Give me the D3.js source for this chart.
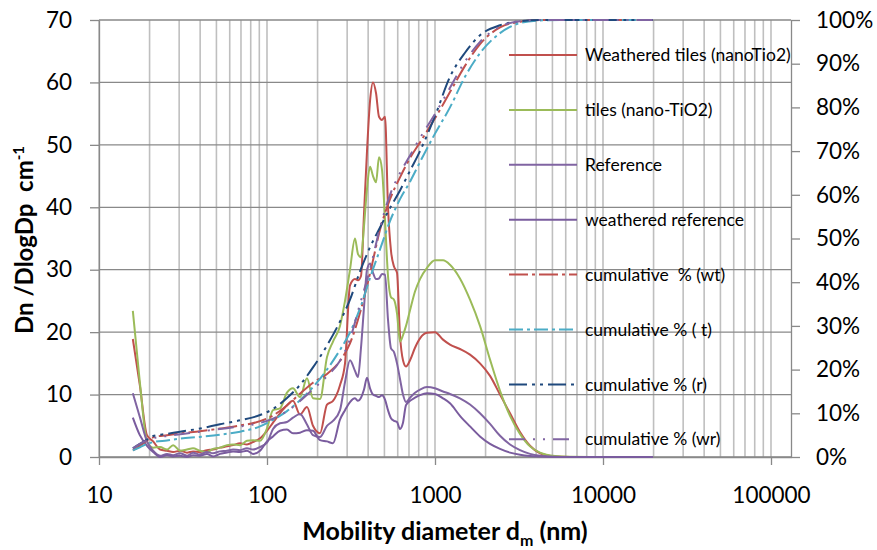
<!DOCTYPE html>
<html>
<head>
<meta charset="utf-8">
<script src="https://cdn.jsdelivr.net/npm/d3@7"></script>
<style>
  body { margin: 0; background: #fff; }
  text { font-family: Lato, "Open Sans", sans-serif; fill: #000; }
</style>
</head>
<body>
<div id="vis1"></div>
<script>
// particle size distributions (dN/dlogDp)
var diam = [15.9, 17.5, 19.3, 21.0, 23.1, 25.4, 27.6, 30.4, 33.4, 36.3,
  39.9, 43.9, 47.7, 52.5, 57.8, 62.8, 69.1, 76.0, 82.5, 90.9,
  100, 108.6, 119.5, 131.5, 142.8, 157.2, 173, 187.8, 206.8, 227.5,
  247.1, 271.9, 291.3, 311.9, 334, 348.1, 362.7, 378, 393.8, 410.4,
  427.6, 445.5, 464.2, 483.7, 504, 525.1, 547.2, 570.1, 594, 619,
  644.9, 672, 710.1, 760.3, 814.2, 896.4, 1000, 1116, 1228, 1408,
  1616, 1853, 2126, 2438, 2796, 3206, 3677, 4217, 5179, 6363,
  8367, 11010, 14480, 19850];

var weatheredTiles = [18.9, 11.5, 3.5, 2.5, 1.2, 1.0, 0.8, 1.0, 0.7, 0.9,
  0.8, 1.1, 1.2, 1.5, 1.7, 1.9, 2.2, 2.0, 2.4, 3.0,
  4.2, 5.5, 7.0, 8.3, 9.0, 6.8, 8.0, 5.0, 3.8, 8.4,
  9.0, 11.5, 15.0, 27.5, 28.5, 28.3, 29.0, 39, 49, 57,
  60, 58.3, 54.5, 54, 54.5, 40, 33, 30.5, 29.5, 19.5,
  15.5, 14.5, 15.5, 17.5, 19, 19.9, 20.0, 18.8, 18.0, 17.3,
  16.4, 15.0, 13.0, 10.0, 7.0, 4.0, 1.8, 0.6, 0.1, 0.02,
  0, 0, 0, 0];

var tiles = [23.4, 12, 2.5, 1.5, 1.6, 1.2, 1.9, 1.0, 1.2, 1.4,
  1.0, 0.8, 1.3, 1.5, 1.9, 2.0, 1.9, 2.6, 2.7, 2.6,
  4.6, 7.5, 7.8, 10.3, 11.0, 9.6, 12.6, 9.4, 9.3, 16.0,
  18.5, 21, 25, 30, 35, 32.5, 32, 37, 43, 46.5,
  45, 44, 48, 46, 38, 29, 25.6, 25.2, 23, 18.5,
  19.5, 21, 23.5, 26.5, 28.5, 30.3, 31.5, 31.5, 30.8, 28.6,
  25.2, 21.0, 15.6, 10.6, 6.6, 3.7, 1.7, 0.7, 0.15, 0.03,
  0, 0, 0, 0];

var reference = [10.2, 6.4, 2.5, 1.0, 0.2, 0.5, 0.3, 0.6, 0.2, 0.7,
  0.4, 0.8, 0.6, 0.9, 1.0, 1.2, 1.1, 1.4, 1.2, 1.6,
  2.3, 4.5, 5.4, 5.6, 6.3, 6.9, 5.2, 3.5, 3.2, 5.0,
  5.8, 7.5, 12.0, 15.5, 13.8, 12.8, 17.5, 24, 30, 31,
  29.5, 28.5, 28.6, 29.3, 29.2, 22, 17.4, 16.8, 15, 12.5,
  10, 8.8, 9.5, 10.3, 10.8, 11.2, 11.0, 10.5, 10.1, 9.4,
  8.4, 7.0, 5.3, 3.4, 2.0, 1.1, 0.5, 0.2, 0.05, 0.01,
  0, 0, 0, 0];

var weatheredRef = [6.3, 3.5, 1.8, 0.8, 0.0, 0.3, 0.1, 0.2, 0.0, 0.3,
  0.2, 0.5, 0.1, 0.5, 0.7, 0.9, 0.8, 1.0, 0.5, 1.0,
  2.5, 3.3, 4.2, 4.4, 3.8, 3.9, 4.3, 4.2, 2.7, 2.5,
  2.2, 6.0, 7.5, 8.8, 9.4, 9.0, 9.5, 10.8, 12.7, 11.0,
  10.0, 9.8, 9.6, 9.9, 9.2, 7.5, 6.2, 5.8, 5.6, 4.5,
  5.5, 8.3, 9.0, 9.5, 9.9, 10.2, 10.1, 9.4, 8.6, 6.6,
  4.9, 3.3, 2.1, 1.3, 0.7, 0.35, 0.15, 0.06, 0.01, 0,
  0, 0, 0, 0];

// cumulative distributions, percent (right axis)
var cumDiam = [15.9, 17.5, 19.3, 21.0, 25.4, 30.4, 39.9, 52.5, 69.1, 90.9,
  108.6, 131.5, 157.2, 187.8, 227.5, 271.9, 311.9, 357.8, 410.4, 470.6,
  539.8, 619, 710.1, 814.2, 1000, 1228, 1508, 1853, 2438, 3206,
  4217, 5546, 9594, 19850];
var cumWt = [1.5, 2.5, 3.8, 4.5, 5.0, 5.4, 5.9, 6.5, 7.2, 8.2,
  9.5, 11.8, 14.5, 17, 19, 22, 26, 33, 42, 52,
  59, 64, 68.4, 72, 77.5, 83.5, 89.5, 94.5, 98.3, 99.6,
  100, 100, 100, 100];
var cumT = [1.5, 2.2, 3.0, 3.4, 3.8, 4.2, 4.6, 5.1, 5.8, 7.0,
  8.5, 10.5, 13, 16, 20, 24.5, 28.5, 34, 41, 47.5,
  54, 59, 63, 67.5, 74, 80, 87, 92.4, 97, 99.3,
  99.9, 100, 100, 100];
var cumR = [2.0, 3.0, 4.0, 4.8, 5.3, 5.8, 6.5, 7.5, 8.4, 9.6,
  11, 13.5, 16.5, 20.5, 25.5, 31, 36, 42.5, 48, 52.5,
  57, 61, 65.5, 70, 78, 87, 92.5, 96.5, 98.8, 99.7,
  100, 100, 100, 100];
var cumWr = [2.0, 3.0, 3.8, 4.3, 4.8, 5.2, 5.8, 6.4, 7.0, 7.8,
  8.8, 10.5, 12.8, 15.5, 18.5, 22, 27, 35, 43, 52.5,
  60, 65, 69, 73, 78.5, 84.5, 90.5, 95, 98.5, 99.7,
  100, 100, 100, 100];

var xTicks = [10, 100, 1000, 10000, 100000];
var yTicks = [0, 10, 20, 30, 40, 50, 60, 70];
var y2Ticks = [0, 10, 20, 30, 40, 50, 60, 70, 80, 90, 100];

var legendLabels = ["Weathered tiles (nanoTio2)", "tiles (nano-TiO2)", "Reference",
  "weathered reference", "cumulative  % (wt)", "cumulative % ( t)",
  "cumulative % (r)", "cumulative % (wr)"];

var series = [
  {name: legendLabels[0], x: diam, v: weatheredTiles, color: "#C0504D", dash: null, right: false},
  {name: legendLabels[1], x: diam, v: tiles, color: "#9BBB59", dash: null, right: false},
  {name: legendLabels[2], x: diam, v: reference, color: "#8064A2", dash: null, right: false},
  {name: legendLabels[3], x: diam, v: weatheredRef, color: "#7A5C9E", dash: null, right: false},
  {name: legendLabels[4], x: cumDiam, v: cumWt, color: "#C0504D", dash: "19,4,3,4", right: true},
  {name: legendLabels[5], x: cumDiam, v: cumT, color: "#4BACC6", dash: "14,4,3,4", right: true},
  {name: legendLabels[6], x: cumDiam, v: cumR, color: "#1F497D", dash: "18,5,3,5,3,5", right: true},
  {name: legendLabels[7], x: cumDiam, v: cumWr, color: "#8064A2", dash: "16,8,2,8,2,8", right: true}
];

var margin = {top: 20, right: 86, bottom: 93, left: 99},
    width = 877 - margin.left - margin.right,
    height = 550 - margin.top - margin.bottom;

var svg = d3.select("#vis1")
  .append("svg")
    .attr("width", 877)
    .attr("height", 550);

var g = svg.append("g")
  .attr("transform", "translate(" + margin.left + "," + margin.top + ")");

// one decade = 168 px, axis runs a bit past 100000
var x = d3.scaleLog()
  .domain([10, Math.pow(10, 1 + width / 168)])
  .range([0, width]);

var y = d3.scaleLinear()
  .domain([0, 70])
  .range([height, 0]);

var y2 = d3.scaleLinear()
  .domain([0, 100])
  .range([height, 0]);

// vertical grid at every log step
var vgrid = [];
xTicks.forEach(function(d){
  for (var m = 1; m <= 9; m++) {
    if (d * m <= x.domain()[1]) vgrid.push(d * m);
  }
});

g.selectAll(".vgrid")
  .data(vgrid)
  .enter()
  .append("line")
  .attr("class", "vgrid")
  .attr("x1", function(d){ return x(d); })
  .attr("x2", function(d){ return x(d); })
  .attr("y1", 0)
  .attr("y2", height)
  .style("stroke", "#bfbfbf")
  .style("stroke-width", 1.6);

g.selectAll(".hgrid")
  .data(yTicks)
  .enter()
  .append("line")
  .attr("class", "hgrid")
  .attr("x1", 0)
  .attr("x2", width)
  .attr("y1", function(d){ return y(d); })
  .attr("y2", function(d){ return y(d); })
  .style("stroke", "#898989")
  .style("stroke-width", 1.3);

// axes
var axLeft = g.append("g")
  .call(d3.axisLeft(y).tickValues(yTicks).tickSize(9).tickSizeOuter(0).tickPadding(18));

var axBottom = g.append("g")
  .attr("transform", "translate(0," + height + ")")
  .call(d3.axisBottom(x).tickValues(xTicks).tickFormat(d3.format("d"))
    .tickSize(8).tickSizeOuter(0).tickPadding(22));

var axRight = g.append("g")
  .attr("transform", "translate(" + width + ",0)")
  .call(d3.axisRight(y2).tickValues(y2Ticks).tickFormat(function(d){ return d + "%"; })
    .tickSize(9).tickSizeOuter(0).tickPadding(16));

[axLeft, axBottom, axRight].forEach(function(a){
  a.selectAll("path, line").style("stroke", "#898989").style("stroke-width", 1.3);
  a.selectAll("text")
    .style("font-family", "Lato, sans-serif")
    .style("font-size", "22.5px")
    .style("fill", "#000");
});

// lines
var line = function(s){
  var sc = s.right ? y2 : y;
  return d3.line()
    .x(function(d, i){ return x(s.x[i]); })
    .y(function(d){ return sc(d); })
    .curve(d3.curveMonotoneX)(s.v);
};

g.selectAll(".series")
  .data(series)
  .enter()
  .append("path")
  .attr("class", "series")
  .attr("d", line)
  .attr("fill", "none")
  .attr("stroke", function(d){ return d.color; })
  .attr("stroke-width", 2)
  .attr("stroke-dasharray", function(d){ return d.dash; });

// legend inside plot
var leg = g.selectAll(".leg")
  .data(series)
  .enter()
  .append("g")
  .attr("class", "leg")
  .attr("transform", function(d, i){ return "translate(" + (509 - margin.left) + "," + (55 - margin.top + i * 54.9) + ")"; });

leg.append("line")
  .attr("x1", 0)
  .attr("x2", 68)
  .attr("stroke", function(d){ return d.color; })
  .attr("stroke-width", 2)
  .attr("stroke-dasharray", function(d){ return d.dash; });

leg.append("text")
  .attr("x", 76)
  .attr("dy", "0.35em")
  .style("font-size", "17.5px")
  .style("white-space", "pre")
  .text(function(d){ return d.name; });

// axis titles
var yt = svg.append("text")
  .attr("transform", "rotate(-90)")
  .attr("x", -240)
  .attr("y", 33)
  .attr("text-anchor", "middle")
  .style("font-weight", "bold")
  .style("font-size", "24px")
  .style("white-space", "pre");
yt.append("tspan").text("Dn /DlogDp  cm");
yt.append("tspan").attr("dy", -9).style("font-size", "15px").text("-1");

var xt = svg.append("text")
  .attr("x", 445)
  .attr("y", 540)
  .attr("text-anchor", "middle")
  .style("font-weight", "bold")
  .style("font-size", "25px");
xt.append("tspan").text("Mobility diameter d");
xt.append("tspan").attr("dy", 6).style("font-size", "16px").text("m");
xt.append("tspan").attr("dy", -6).text(" (nm)");
</script>
</body>
</html>
